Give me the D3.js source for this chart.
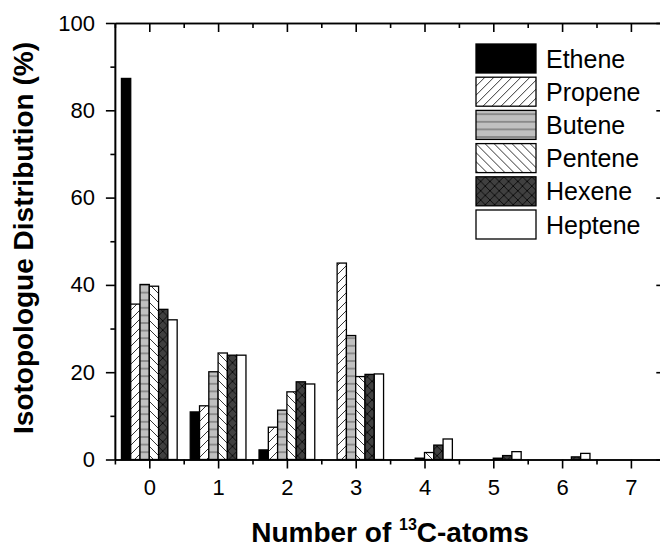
<!DOCTYPE html>
<html>
<head>
<meta charset="utf-8">
<script src="https://cdn.jsdelivr.net/npm/d3@7.9.0/dist/d3.min.js"></script>
<style>
  html, body { margin: 0; padding: 0; background: #fff; }
  svg { display: block; font-family: Arial, "Liberation Sans", sans-serif; }
</style>
</head>
<body>
<svg id="chart" width="660" height="547"></svg>
<script>
// Data (% of each alkene by number of 13C atoms)
const categories = [0, 1, 2, 3, 4, 5, 6, 7];
const seriesNames = ["Ethene", "Propene", "Butene", "Pentene", "Hexene", "Heptene"];
const ethene  = [87.3, 10.9, 2.2, 0, 0, 0, 0, 0];
const propene = [35.6, 12.3, 7.4, 45.0, 0, 0, 0, 0];
const butene  = [40.1, 20.1, 11.3, 28.4, 0.3, 0, 0, 0];
const pentene = [39.7, 24.4, 15.5, 19.0, 1.6, 0.3, 0, 0];
const hexene  = [34.4, 23.9, 17.8, 19.5, 3.3, 0.9, 0.6, 0];
const heptene = [32.0, 23.9, 17.3, 19.6, 4.7, 1.8, 1.4, 0];
const seriesValues = [ethene, propene, butene, pentene, hexene, heptene];
const yTicks = [0, 20, 40, 60, 80, 100];

const svg = d3.select("#chart");

// scales: plot frame runs from -0.5 to 7.5 (right edge is cut off by the picture)
const x = d3.scaleLinear().domain([-0.5, 7.5]).range([114.9, 665.3]);
const y = d3.scaleLinear().domain([0, 100]).range([459.5, 23]);

// fill patterns
const defs = svg.append("defs");
function pattern(id, size, bg, lines, lineColor, lw) {
  const p = defs.append("pattern")
    .attr("id", id)
    .attr("patternUnits", "userSpaceOnUse")
    .attr("width", size).attr("height", size);
  p.append("rect").attr("width", size).attr("height", size).attr("fill", bg);
  p.append("path").attr("d", lines)
    .attr("stroke", lineColor).attr("stroke-width", lw).attr("fill", "none");
}
const s = 9;
pattern("pat-fwd", s, "#fff", `M0,${s} L${s},0 M-1,1 L1,-1 M${s - 1},${s + 1} L${s + 1},${s - 1}`, "#000", 0.8);
pattern("pat-back", s, "#fff", `M0,0 L${s},${s} M-1,${s - 1} L1,${s + 1} M${s - 1},-1 L${s + 1},1`, "#000", 0.8);
pattern("pat-horiz", 7.6, "#c0c0c0", "M0,3.8 L7.6,3.8", "#5a5a5a", 1);
pattern("pat-cross", 9.3, "#404040", "M0,0 L9.3,9.3 M0,9.3 L9.3,0", "#000", 0.8);

const fills = ["#000", "url(#pat-fwd)", "url(#pat-horiz)", "url(#pat-back)", "url(#pat-cross)", "#fff"];

// bars
const barUnit = 0.135;
const barW = x(barUnit) - x(0);
const barData = [];
seriesValues.forEach((vals, j) => {
  vals.forEach((v, i) => barData.push({ cat: categories[i], s: j, v }));
});

svg.append("g").selectAll("rect")
  .data(barData.filter(d => d.v > 0))
  .join("rect")
  .attr("x", d => x(d.cat - 3 * barUnit + d.s * barUnit))
  .attr("y", d => y(d.v))
  .attr("width", barW)
  .attr("height", d => y(0) - y(d.v))
  .attr("fill", d => fills[d.s])
  .attr("stroke", "#000")
  .attr("stroke-width", 1.3);

// axes
function styleAxis(g) {
  g.selectAll("path, line").attr("stroke", "#000").attr("stroke-width", 1.6);
  g.selectAll("text").attr("fill", "#000").attr("font-size", 22)
    .attr("font-family", "Arial, 'Liberation Sans', sans-serif");
}
const xMinor = d3.range(-0.5, 7.51, 1);
const yMinor = d3.range(10, 100, 20);

svg.append("g").attr("transform", `translate(0,${y(0)})`)
  .call(d3.axisBottom(x).tickValues(categories).tickSize(9).tickSizeOuter(0).tickPadding(11).tickFormat(d3.format("d")))
  .call(styleAxis);
svg.append("g").attr("transform", `translate(0,${y(0)})`)
  .call(d3.axisBottom(x).tickValues(xMinor).tickSize(5).tickSizeOuter(0).tickFormat(""))
  .call(styleAxis);

svg.append("g").attr("transform", `translate(0,${y(100)})`)
  .call(d3.axisTop(x).tickValues(categories).tickSize(-9).tickSizeOuter(0).tickFormat(""))
  .call(styleAxis);
svg.append("g").attr("transform", `translate(0,${y(100)})`)
  .call(d3.axisTop(x).tickValues(xMinor).tickSize(-5).tickSizeOuter(0).tickFormat(""))
  .call(styleAxis);

svg.append("g").attr("transform", `translate(${x(-0.5)},0)`)
  .call(d3.axisLeft(y).tickValues(yTicks).tickSize(9).tickSizeOuter(0).tickPadding(11))
  .call(styleAxis);
svg.append("g").attr("transform", `translate(${x(-0.5)},0)`)
  .call(d3.axisLeft(y).tickValues(yMinor).tickSize(4.5).tickSizeOuter(0).tickFormat(""))
  .call(styleAxis);

svg.append("g").attr("transform", `translate(${x(7.5)},0)`)
  .call(d3.axisRight(y).tickValues(yTicks).tickSize(-9).tickSizeOuter(0).tickFormat(""))
  .call(styleAxis);
svg.append("g").attr("transform", `translate(${x(7.5)},0)`)
  .call(d3.axisRight(y).tickValues(yMinor).tickSize(-4.5).tickSizeOuter(0).tickFormat(""))
  .call(styleAxis);

// axis titles
svg.append("text")
  .attr("transform", "translate(33,238) rotate(-90)")
  .attr("text-anchor", "middle")
  .attr("font-size", 28).attr("font-weight", "bold")
  .text("Isotopologue Distribution (%)");

const xt = svg.append("text")
  .attr("x", 390).attr("y", 542)
  .attr("text-anchor", "middle")
  .attr("font-size", 28).attr("font-weight", "bold");
xt.append("tspan").text("Number of ");
xt.append("tspan").attr("font-size", 16).attr("dy", -12).text("13");
xt.append("tspan").attr("dy", 12).text("C-atoms");

// legend
const legend = svg.append("g").attr("transform", "translate(476,44)");
const rows = legend.selectAll("g")
  .data(seriesNames)
  .join("g")
  .attr("transform", (d, i) => `translate(0,${i * 33.2})`);
rows.append("rect")
  .attr("width", 60).attr("height", 29)
  .attr("fill", (d, i) => fills[i])
  .attr("stroke", "#000").attr("stroke-width", 1.3);
rows.append("text")
  .attr("x", 70).attr("y", 23.5)
  .attr("font-size", 25)
  .text(d => d);
</script>
</body>
</html>
